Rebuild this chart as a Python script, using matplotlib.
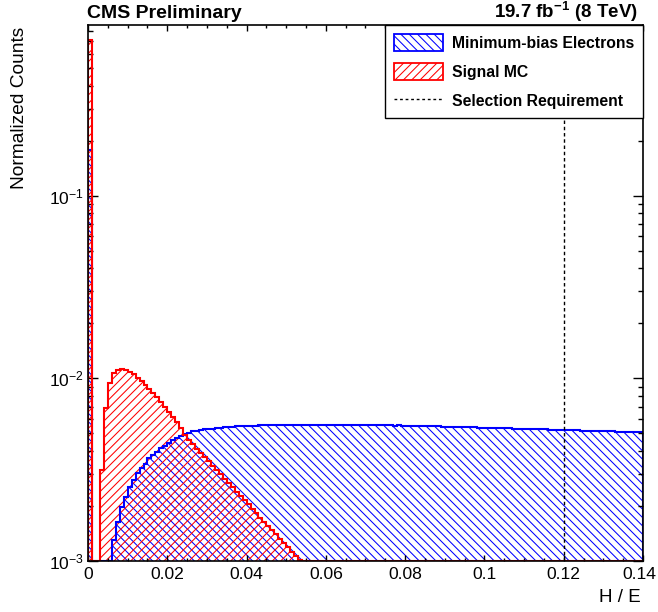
import numpy as np
import matplotlib
matplotlib.use("Agg")
import matplotlib.pyplot as plt
from matplotlib.patches import Patch
from matplotlib.lines import Line2D
from matplotlib.ticker import LogLocator, MultipleLocator, NullFormatter
from matplotlib.transforms import ScaledTranslation

plt.rcParams['font.family'] = ['Liberation Sans', 'DejaVu Sans']
plt.rcParams['mathtext.fontset'] = 'custom'
plt.rcParams['mathtext.rm'] = 'Liberation Sans'
plt.rcParams['mathtext.bf'] = 'Liberation Sans:bold'
plt.rcParams['hatch.linewidth'] = 0.75

# H/E histograms, 140 bins of width 0.001 from 0 to 0.14
bin_width = 0.001
n_bins = 140
cut_value = 0.12

minbias = [
    0.179, 0, 0, 0, 0, 0, 0.00130, 0.00164, 0.00198, 0.00225,
    0.00255, 0.00277, 0.00302, 0.00322, 0.00340, 0.00365, 0.00380, 0.00396, 0.00414, 0.00426,
    0.00444, 0.00459, 0.00470, 0.00483, 0.00494, 0.00504, 0.00512, 0.00517, 0.00521, 0.00525,
    0.00528, 0.00531, 0.00535, 0.00538, 0.00540, 0.00542, 0.00544, 0.00545, 0.00547, 0.00548,
    0.00549, 0.00550, 0.00551, 0.00552, 0.00553, 0.00553, 0.00554, 0.00555, 0.00555, 0.00556,
    0.00556, 0.00557, 0.00556, 0.00557, 0.00558, 0.00557, 0.00556, 0.00557, 0.00558, 0.00556,
    0.00557, 0.00556, 0.00557, 0.00555, 0.00556, 0.00557, 0.00555, 0.00556, 0.00555, 0.00556,
    0.00554, 0.00555, 0.00554, 0.00553, 0.00554, 0.00552, 0.00553, 0.00551, 0.00552, 0.00550,
    0.00550, 0.00549, 0.00548, 0.00549, 0.00547, 0.00546, 0.00547, 0.00545, 0.00545, 0.00544,
    0.00543, 0.00543, 0.00542, 0.00541, 0.00541, 0.00540, 0.00539, 0.00539, 0.00538, 0.00537,
    0.00536, 0.00536, 0.00535, 0.00534, 0.00533, 0.00533, 0.00532, 0.00531, 0.00530, 0.00530,
    0.00529, 0.00528, 0.00527, 0.00527, 0.00526, 0.00525, 0.00524, 0.00523, 0.00523, 0.00522,
    0.00521, 0.00520, 0.00520, 0.00519, 0.00518, 0.00517, 0.00516, 0.00516, 0.00515, 0.00514,
    0.00513, 0.00512, 0.00512, 0.00511, 0.00510, 0.00509, 0.00509, 0.00508, 0.00507, 0.00506,
]

signal = [
    0.711, 0, 0, 0.00315, 0.00685, 0.00942, 0.01069, 0.01117, 0.01132, 0.01110,
    0.01082, 0.01056, 0.01005, 0.00967, 0.00919, 0.00874, 0.00831, 0.00790, 0.00742, 0.00697,
    0.00654, 0.00614, 0.00577, 0.00535, 0.00490, 0.00459, 0.00436, 0.00412, 0.00391, 0.00370,
    0.00351, 0.00332, 0.00315, 0.00298, 0.00282, 0.00267, 0.00253, 0.00240, 0.00227, 0.00215,
    0.00204, 0.00193, 0.00183, 0.00173, 0.00164, 0.00155, 0.00147, 0.00140, 0.00132, 0.00125,
    0.00119, 0.00112, 0.00106, 0.00101, 0.00096, 0.00091, 0.00087, 0.00083, 0.00079, 0.00075,
    0.00071, 0.00068, 0.00065, 0.00062, 0.00059, 0.00056, 0.00053, 0.00051, 0.00048, 0.00046,
    0.00044, 0.00042, 0.00040, 0.00038, 0.00036, 0.00034, 0.00033, 0.00031, 0.00030, 0.00028,
    0.00027, 0.00026, 0.00025, 0.00024, 0.00023, 0.00022, 0.00021, 0.00020, 0.00019, 0.00018,
    0.00017, 0.00016, 0.00016, 0.00015, 0.00014, 0.00014, 0.00013, 0.00013, 0.00012, 0.00012,
    0.00011, 0.00011, 0.00010, 0.00010, 0.00009, 0.00009, 0.00009, 0.00008, 0.00008, 0.00008,
    0.00007, 0.00007, 0.00007, 0.00006, 0.00006, 0.00006, 0.00006, 0.00005, 0.00005, 0.00005,
    0.00005, 0.00005, 0.00004, 0.00004, 0.00004, 0.00004, 0.00004, 0.00004, 0.00003, 0.00003,
    0.00003, 0.00003, 0.00003, 0.00003, 0.00003, 0.00003, 0.00003, 0.00002, 0.00002, 0.00002,
]

ymin, ymax = 1e-3, 0.86
edges = np.arange(n_bins + 1) * bin_width

blue_hatch = '\\' * 4
red_hatch = '////'

fig = plt.figure(figsize=(6.58, 6.12), dpi=100)
ax = fig.add_axes([88 / 658, 51 / 612, 555 / 658, 536 / 612])

# draw bins below the minimum at the minimum, like ROOT does
mb = np.clip(np.array(minbias), ymin, None)
sg = np.clip(np.array(signal), ymin, None)

ax.stairs(mb, edges, baseline=ymin, fill=True, facecolor='none',
          edgecolor='blue', hatch=blue_hatch, linewidth=0, zorder=1)
ax.stairs(sg, edges, baseline=ymin, fill=True, facecolor='none',
          edgecolor='red', hatch=red_hatch, linewidth=0, zorder=1.1)
ax.stairs(mb, edges, baseline=ymin, color='blue', linewidth=1.5, zorder=1.5)
ax.stairs(sg, edges, baseline=ymin, color='red', linewidth=1.5, zorder=1.6)

ax.axvline(cut_value, color='black', linestyle=(0, (2.5, 2)), linewidth=1.0, zorder=1.7)

ax.set_yscale('log')
ax.set_xlim(0, n_bins * bin_width)
ax.set_ylim(ymin, ymax)

ax.xaxis.set_major_locator(MultipleLocator(0.02))
ax.xaxis.set_minor_locator(MultipleLocator(0.005))
ax.xaxis.set_major_formatter(plt.FuncFormatter(lambda v, p: ('%g' % round(v, 3))))
ax.yaxis.set_major_locator(LogLocator(base=10))
ax.yaxis.set_minor_locator(LogLocator(base=10, subs=np.arange(2, 10)))
ax.yaxis.set_minor_formatter(NullFormatter())

ax.tick_params(axis='both', which='both', direction='in', top=True, right=True,
               labelsize=12.6, width=1.0)
ax.tick_params(axis='x', which='major', length=4.3, pad=4)
ax.tick_params(axis='x', which='minor', length=2.3)
ax.tick_params(axis='y', which='major', length=7, pad=3)
ax.tick_params(axis='y', which='minor', length=3.6)
for s in ax.spines.values():
    s.set_linewidth(1.2)

fig.text(20 / 658, 1 - 27 / 612, 'Normalized Counts', rotation=90,
         ha='center', va='top', fontsize=13.8)
fig.text(641 / 658, 1 - 597 / 612, 'H / E', ha='right', va='center', fontsize=13.5)

fig.text(87 / 658, 1 - 18 / 612, 'CMS Preliminary', ha='left', va='baseline',
         fontsize=14, fontweight='bold')
fig.text(638 / 658, 1 - 18 / 612, r'19.7 fb$^{\mathbf{-1}}$ (8 TeV)', ha='right',
         va='baseline', fontsize=13.5, fontweight='bold')

handles = [
    Patch(facecolor='none', edgecolor='blue', hatch=blue_hatch, linewidth=1.3),
    Patch(facecolor='none', edgecolor='red', hatch=red_hatch, linewidth=1.3),
    Line2D([], [], color='black', linestyle=(0, (2, 2)), linewidth=1.0),
]
labels = ['Minimum-bias Electrons', 'Signal MC', 'Selection Requirement']
leg = ax.legend(handles, labels, loc='upper right', bbox_to_anchor=(1.0, 1.0),
                borderaxespad=0, frameon=True, fancybox=False, edgecolor='black',
                framealpha=1, prop={'weight': 'bold', 'size': 11.3},
                handlelength=3.1, handleheight=1.35, handletextpad=0.6,
                labelspacing=0.74, borderpad=0.55)
leg.get_frame().set_linewidth(1.0)
leg.set_zorder(5)

# keep the last x label (0.14) inside the canvas, as in the original
fig.canvas.draw()
shift = ScaledTranslation(-3.5 / 100, 0, fig.dpi_scale_trans)
for lab in ax.xaxis.get_majorticklabels():
    if lab.get_text() == '0.14':
        lab.set_transform(lab.get_transform() + shift)

fig.savefig('out.png', dpi=100)
